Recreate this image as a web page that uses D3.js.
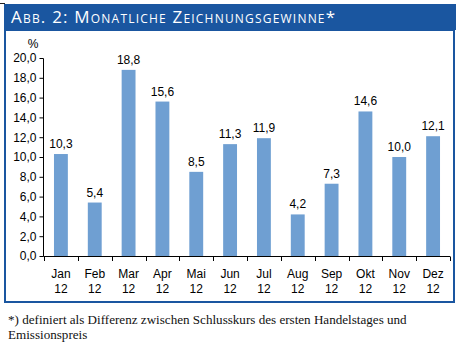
<!DOCTYPE html>
<html>
<head>
<meta charset="utf-8">
<script src="https://cdn.jsdelivr.net/npm/d3@7"></script>
<style>
	body { margin: 0; background: #fff; }
	svg { display: block; }
</style>
</head>
<body>
<div id="chart"></div>
<script>
// Monatliche Zeichnungsgewinne 2012 (%)
const months = ["Jan", "Feb", "Mar", "Apr", "Mai", "Jun", "Jul", "Aug", "Sep", "Okt", "Nov", "Dez"];
const yearLabels = ["12", "12", "12", "12", "12", "12", "12", "12", "12", "12", "12", "12"];
const gains = [10.3, 5.4, 18.8, 15.6, 8.5, 11.3, 11.9, 4.2, 7.3, 14.6, 10.0, 12.1];
const yTicks = [0, 2, 4, 6, 8, 10, 12, 14, 16, 18, 20];

const width = 460;
const height = 351;
const frameBlue = "#1a56a0";
const barBlue = "#6f9fd2";
const fmt = (v) => v.toFixed(1).replace(".", ",");

const svg = d3.select("#chart")
	.append("svg")
	.attr("width", width)
	.attr("height", height);

// frame + title bar
svg.append("line")
	.attr("x1", 0).attr("x2", 5)
	.attr("y1", 3.5).attr("y2", 3.5)
	.attr("stroke", "#222")
	.attr("stroke-width", 1);

svg.append("rect")
	.attr("x", 5)
	.attr("y", 30)
	.attr("width", 449)
	.attr("height", 272)
	.attr("fill", "none")
	.attr("stroke", frameBlue)
	.attr("stroke-width", 2);

svg.append("rect")
	.attr("x", 4)
	.attr("y", 4)
	.attr("width", 452)
	.attr("height", 26)
	.attr("fill", frameBlue);

svg.append("text")
	.attr("x", 11)
	.attr("y", 23)
	.attr("fill", "#fff")
	.style("font-family", "'Open Sans', sans-serif")
	.style("font-size", "17px")
	.style("font-variant", "small-caps")
	.style("letter-spacing", "1.2px")
	.text("Abb. 2: Monatliche Zeichnungsgewinne*");

// scales
const xScale = d3.scaleBand()
	.domain(months)
	.range([44, 450])
	.paddingInner(0.59)
	.paddingOuter(0.295);

const yScale = d3.scaleLinear()
	.domain([0, 20])
	.range([256, 58]);

// y axis
const yAxis = svg.append("g")
	.attr("transform", "translate(43.5, 0)")
	.call(d3.axisLeft(yScale).tickValues(yTicks).tickSize(4).tickPadding(3).tickFormat(fmt));
yAxis.select(".domain").attr("stroke", "#000").attr("d", "M0,58.5V256.5");
yAxis.selectAll("text")
	.style("font-family", "Arial, 'Liberation Sans', sans-serif")
	.style("font-size", "12px")
	.attr("fill", "#000");

svg.append("text")
	.attr("x", 33)
	.attr("y", 48)
	.attr("text-anchor", "middle")
	.style("font-family", "Arial, 'Liberation Sans', sans-serif")
	.style("font-size", "12px")
	.text("%");

// bars
svg.append("g")
	.selectAll("rect")
	.data(gains)
	.join("rect")
	.attr("x", (d, i) => xScale(months[i]))
	.attr("y", (d) => yScale(d))
	.attr("width", xScale.bandwidth())
	.attr("height", (d) => yScale(0) - yScale(d))
	.attr("fill", barBlue);

// value labels
svg.append("g")
	.selectAll("text")
	.data(gains)
	.join("text")
	.attr("x", (d, i) => xScale(months[i]) + xScale.bandwidth() / 2)
	.attr("y", (d) => yScale(d) - 6)
	.attr("text-anchor", "middle")
	.style("font-family", "Arial, 'Liberation Sans', sans-serif")
	.style("font-size", "12px")
	.text((d) => fmt(d));

// x axis: baseline + boundary ticks
const step = xScale.step();
const xg = svg.append("g");
xg.append("line")
	.attr("x1", 43.5).attr("x2", 450)
	.attr("y1", 256.5).attr("y2", 256.5)
	.attr("stroke", "#000");
xg.selectAll("line.tick")
	.data(d3.range(months.length + 1))
	.join("line")
	.attr("class", "tick")
	.attr("x1", (i) => Math.round(44 + i * step) + 0.5)
	.attr("x2", (i) => Math.round(44 + i * step) + 0.5)
	.attr("y1", 256.5).attr("y2", 261)
	.attr("stroke", "#000");

const xLabels = xg.selectAll("text.xl")
	.data(months)
	.join("text")
	.attr("class", "xl")
	.attr("x", (d) => xScale(d) + xScale.bandwidth() / 2)
	.attr("text-anchor", "middle")
	.style("font-family", "Arial, 'Liberation Sans', sans-serif")
	.style("font-size", "12px");
xLabels.append("tspan").attr("x", (d) => xScale(d) + xScale.bandwidth() / 2).attr("y", 278).text((d) => d);
xLabels.append("tspan").attr("x", (d) => xScale(d) + xScale.bandwidth() / 2).attr("y", 292.5).text((d, i) => yearLabels[i]);

// footnote
const foot = svg.append("text")
	.style("font-family", "'Liberation Serif', 'DejaVu Serif', serif")
	.style("font-size", "13.1px")
	.attr("fill", "#111");
foot.append("tspan").attr("x", 8).attr("y", 323.5)
	.text("*) definiert als Differenz zwischen Schlusskurs des ersten Handelstages und");
foot.append("tspan").attr("x", 8).attr("y", 338.5)
	.text("Emissionspreis");
</script>
</body>
</html>
